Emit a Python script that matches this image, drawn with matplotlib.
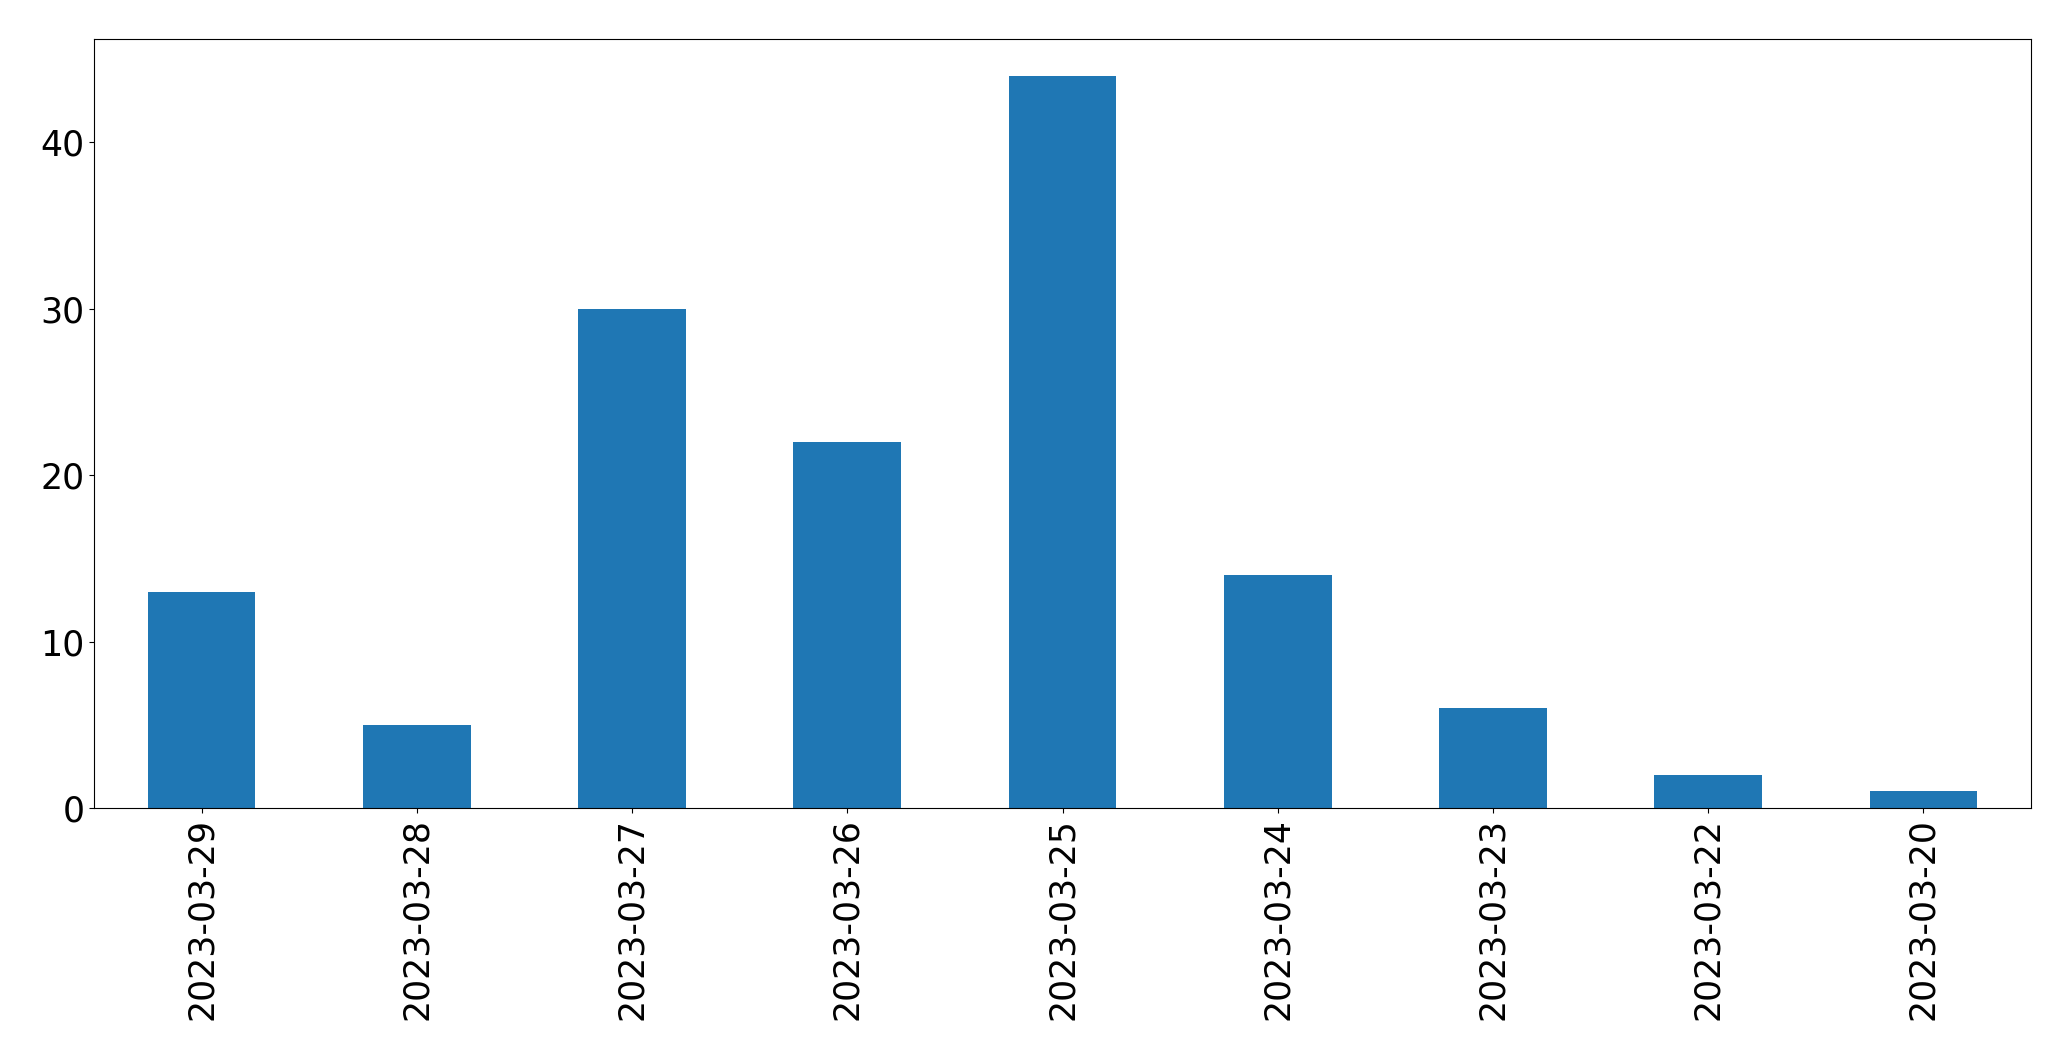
import matplotlib
matplotlib.use("Agg")
import matplotlib.pyplot as plt

dates = ["2023-03-29", "2023-03-28", "2023-03-27", "2023-03-26", "2023-03-25",
         "2023-03-24", "2023-03-23", "2023-03-22", "2023-03-20"]
counts = [13, 5, 30, 22, 44, 14, 6, 2, 1]

fig = plt.figure(figsize=(20.71, 10.61), dpi=100)
ax = fig.add_axes([94 / 2071, 1 - 808 / 1061, (2031 - 94) / 2071, (808 - 39) / 1061])
x = list(range(len(dates)))
ax.bar(x, counts, width=0.5, color="#1f77b4")
ax.set_xlim(-0.5, len(dates) - 0.5)
ax.set_ylim(0, max(counts) * 1.05)
ax.set_xticks(x)
ax.set_xticklabels(dates, rotation=90)
ax.tick_params(labelsize=25)
fig.savefig("out.png", dpi=100)
